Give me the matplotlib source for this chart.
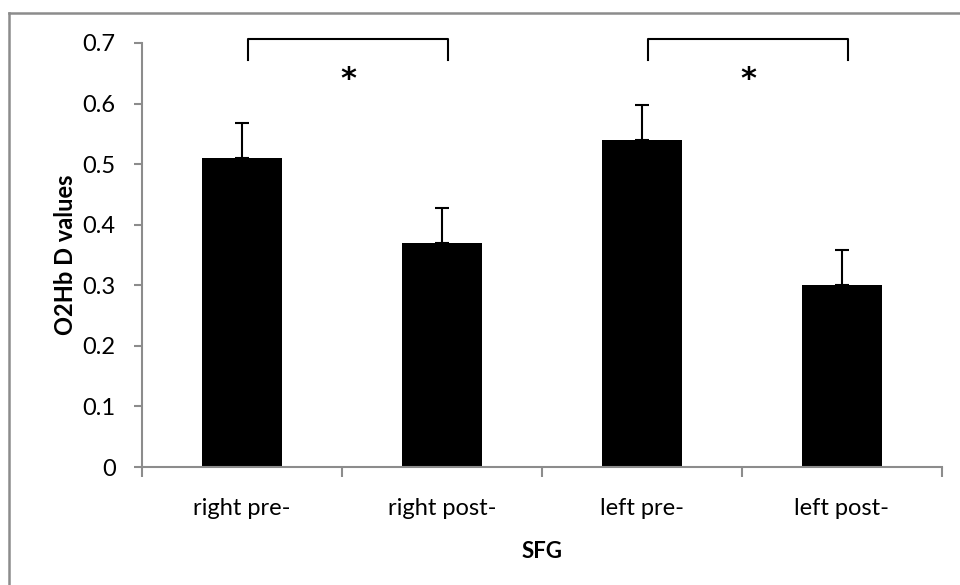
import numpy as np
import matplotlib
matplotlib.use('Agg')
import matplotlib.pyplot as plt
from matplotlib.lines import Line2D

plt.rcParams['font.family'] = ['Lato', 'DejaVu Sans']

# data
categories = ['right pre-', 'right post-', 'left pre-', 'left post-']
values = [0.51, 0.37, 0.54, 0.30]
errors = [0.058, 0.058, 0.058, 0.058]
# significance brackets: (first bar, second bar)
pairs = [(0, 1), (2, 3)]

fig = plt.figure(figsize=(9.6, 5.85), dpi=100)
ax = fig.add_axes([0.1479, 0.2017, 0.8333, 0.7248])

x = np.arange(len(categories))
ax.bar(x, values, width=0.4, color='black', zorder=2)
ax.errorbar(x, values, yerr=[np.zeros(len(errors)), errors], fmt='none',
            ecolor='black', elinewidth=1.5, capsize=4.8, capthick=1.5, zorder=3)

ax.set_xlim(-0.5, len(categories) - 0.5)
ax.set_ylim(0, 0.7)
ax.set_yticks(np.arange(0, 0.71, 0.1))
ax.set_yticklabels(['0', '0.1', '0.2', '0.3', '0.4', '0.5', '0.6', '0.7'])
ax.set_xticks(x)
ax.set_xticklabels(categories)
ax.set_xticks(np.arange(-0.5, len(categories)), minor=True)

for s in ['top', 'right']:
    ax.spines[s].set_visible(False)
for s in ['left', 'bottom']:
    ax.spines[s].set_color('#8c8c8c')
    ax.spines[s].set_linewidth(1.5)

ax.tick_params(axis='y', direction='out', length=6, width=1.5, color='#8c8c8c',
               labelsize=17, pad=13)
ax.tick_params(axis='x', which='major', length=0, labelsize=17, pad=22)
ax.tick_params(axis='x', which='minor', direction='out', length=7, width=1.5,
               color='#8c8c8c')

ax.set_ylabel('O2Hb D values', fontsize=17, fontweight='bold', labelpad=4)
ax.set_xlabel('SFG', fontsize=16, fontweight='bold', labelpad=16)

# significance brackets
for a, b in pairs:
    xa, xb = x[a] + 0.03, x[b] + 0.03
    ax.plot([xa, xa, xb, xb], [0.672, 0.706, 0.706, 0.672], color='black',
            lw=1.5, clip_on=False, solid_joinstyle='round')
    ax.text((xa + xb) / 2, 0.64, '*', ha='center', va='center',
            fontsize=22, fontweight='bold', family='DejaVu Sans', clip_on=False)

# outer frame (gray) like the exported chart area
fig.add_artist(Line2D([9 / 960, 9 / 960], [0, 1 - 13 / 585],
                      transform=fig.transFigure, color='#8c8c8c', lw=1.8))
fig.add_artist(Line2D([9 / 960, 1], [1 - 13 / 585, 1 - 13 / 585],
                      transform=fig.transFigure, color='#8c8c8c', lw=1.8))

fig.savefig('out.png', dpi=100)
